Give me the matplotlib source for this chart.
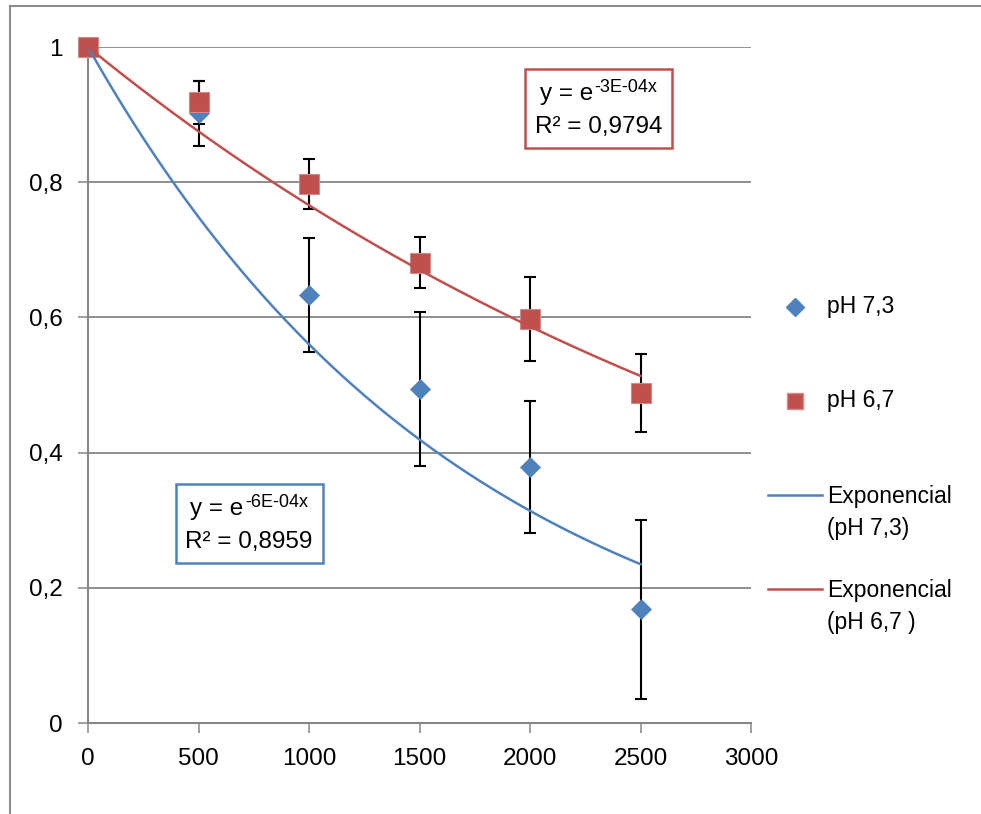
import numpy as np
import matplotlib
matplotlib.use("Agg")
import matplotlib.pyplot as plt
from matplotlib.lines import Line2D
from matplotlib.offsetbox import TextArea, HPacker, VPacker, DrawingArea, AnnotationBbox

plt.rcParams['font.family'] = ['Liberation Sans', 'DejaVu Sans']

# tempo (s) e fração remanescente
tempo = [0, 500, 1000, 1500, 2000, 2500]
ph73 = [1.0, 0.902, 0.633, 0.494, 0.379, 0.168]
ph73_err = [0.0, 0.048, 0.084, 0.114, 0.098, 0.133]
ph67 = [1.0, 0.918, 0.798, 0.681, 0.598, 0.488]
ph67_err = [0.0, 0.032, 0.037, 0.038, 0.062, 0.058]
r2_ph73 = "0,8959"
r2_ph67 = "0,9794"

azul = '#4F81BD'
vermelho = '#C0504D'
cinza = '#868686'

W, H = 981, 814
fig = plt.figure(figsize=(W / 100, H / 100), dpi=100)
ax = fig.add_axes([88 / W, 1 - 723 / H, 663 / W, 676 / H])


def ajuste_exp(x, y):
    # y = exp(-b x), intercepto fixo em 1 (mínimos quadrados em ln y)
    x = np.asarray(x, float)
    ly = np.log(np.asarray(y, float))
    return -np.sum(x * ly) / np.sum(x * x)


b73 = ajuste_exp(tempo, ph73)
b67 = ajuste_exp(tempo, ph67)

ek = dict(fmt='none', ecolor='black', elinewidth=1.5, capsize=4, capthick=1.5, zorder=3, clip_on=False)
ax.errorbar(tempo, ph73, yerr=ph73_err, **ek)
ax.errorbar(tempo, ph67, yerr=ph67_err, **ek)
ax.plot(tempo, ph73, 'D', ms=10.2, color=azul, mec=azul, mew=0.5, zorder=4, clip_on=False)
ax.plot(tempo, ph67, 's', ms=14, color=vermelho, mec='#D28A88', mew=0.8, zorder=5, clip_on=False)

xx = np.linspace(0, tempo[-1], 300)
ax.plot(xx, np.exp(-b73 * xx), color=azul, lw=1.8, zorder=6, clip_on=False)
ax.plot(xx, np.exp(-b67 * xx), color=vermelho, lw=1.8, zorder=6, clip_on=False)

ax.set_xlim(0, 3000)
ax.set_ylim(0, 1)
ax.set_xticks(range(0, 3001, 500))
ax.set_yticks([0, 0.2, 0.4, 0.6, 0.8, 1])
ax.set_yticklabels([f"{v:g}".replace('.', ',') for v in [0, 0.2, 0.4, 0.6, 0.8, 1]])
ax.grid(axis='y', color=cinza, lw=1.3)
ax.set_axisbelow(True)
for s in ['top', 'right']:
    ax.spines[s].set_visible(False)
for s in ['left', 'bottom']:
    ax.spines[s].set_color(cinza)
    ax.spines[s].set_linewidth(1.5)
ax.tick_params(direction='out', length=7, width=1.1, color=cinza, pad=11, labelsize=17.5)


def caixa_ajuste(b, r2, pos, cor):
    expo = f"{-b:.0E}x"
    base = TextArea("y = e", textprops=dict(fontsize=17.5))
    sup = TextArea(expo, textprops=dict(fontsize=13))
    sup_alto = VPacker(children=[sup, DrawingArea(1, 7)], sep=0, pad=0)
    linha1 = HPacker(children=[base, sup_alto], align='bottom', sep=1, pad=0)
    linha2 = TextArea(f"R² = {r2}", textprops=dict(fontsize=17.5))
    bloco = VPacker(children=[linha1, linha2], align='center', sep=8, pad=0)
    ab = AnnotationBbox(bloco, pos, xycoords='axes fraction', box_alignment=(0.5, 0.5),
                        frameon=True, pad=0.7, annotation_clip=False, zorder=8,
                        bboxprops=dict(edgecolor=cor, linewidth=1.8, facecolor='white'))
    ax.add_artist(ab)


caixa_ajuste(b67, r2_ph67, (0.770, 0.909), vermelho)
caixa_ajuste(b73, r2_ph73, (0.243, 0.295), azul)

# legenda
def fx(px):
    return px / W


def fy(py):
    return 1 - py / H


fig.add_artist(Line2D([fx(795)], [fy(307)], marker='D', ms=8.7, color=azul, ls='none'))
fig.add_artist(Line2D([fx(795)], [fy(401)], marker='s', ms=12, color=vermelho, mec='#D28A88', ls='none'))
fig.add_artist(Line2D([fx(768), fx(822)], [fy(495)] * 2, color=azul, lw=1.8))
fig.add_artist(Line2D([fx(768), fx(822)], [fy(589)] * 2, color=vermelho, lw=1.8))
txt = dict(fontsize=16.5, va='center', ha='left')
fig.text(fx(827), fy(307), "pH 7,3", **txt)
fig.text(fx(827), fy(401), "pH 6,7", **txt)
fig.text(fx(827), fy(497), "Exponencial", **txt)
fig.text(fx(827), fy(528), "(pH 7,3)", **txt)
fig.text(fx(827), fy(590), "Exponencial", **txt)
fig.text(fx(827), fy(622), "(pH 6,7 )", **txt)

# moldura do gráfico
fig.add_artist(Line2D([fx(10), 1], [fy(6)] * 2, color='#8C8C8C', lw=1.5))
fig.add_artist(Line2D([fx(10)] * 2, [fy(6), 0], color='#8C8C8C', lw=1.5))

fig.savefig("out.png", dpi=100)
